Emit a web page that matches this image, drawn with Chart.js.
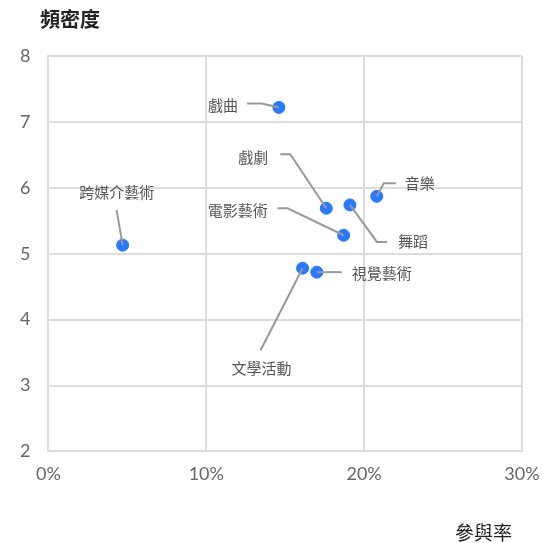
<!DOCTYPE html>
<html lang="zh-Hant">

<head>
  <meta charset="UTF-8" />
  <title>參與率與頻密度</title>
  <script src="https://cdn.jsdelivr.net/npm/chart.js"></script>
  <style>
    html, body {
      margin: 0;
      padding: 0;
      background: #fff;
    }

    #chart-container {
      width: 547px;
      height: 543px;
    }
  </style>
</head>

<body>

  <div id="chart-container">
    <canvas id="scatterChart"></canvas>
  </div>

  <script>
    // Dades llegides de la imatge
    const categories = ['戲曲', '戲劇', '舞蹈', '音樂', '電影藝術', '跨媒介藝術', '文學活動', '視覺藝術'];
    const participacio = [14.6, 17.6, 19.1, 20.8, 18.7, 4.7, 16.1, 17.0]; // %
    const frequencia = [7.22, 5.69, 5.74, 5.87, 5.28, 5.13, 4.78, 4.72];
    const xTicks = [0, 10, 20, 30];
    const yTicks = [2, 3, 4, 5, 6, 7, 8];

    // Posició de les etiquetes respecte del punt (px): text, inici de la línia, colze
    const labelLayout = [
      { text: [-41, -2], align: 'right', start: [-32, -4], elbow: [-17, -4] },
      { text: [-58, -51], align: 'right', start: [-46, -54], elbow: [-36, -54] },
      { text: [48, 36], align: 'left', start: [37, 37], elbow: [27, 37] },
      { text: [28, -13], align: 'left', start: [19, -13], elbow: [7, -13] },
      { text: [-76, -25], align: 'right', start: [-66, -27], elbow: [-56, -27] },
      { text: [-6, -53], align: 'center', start: [-6, -35], elbow: null },
      { text: [-41, 100], align: 'center', start: [-42, 82], elbow: null },
      { text: [35, 1], align: 'left', start: [25, 0], elbow: null }
    ];

    const points = categories.map((c, i) => ({ x: participacio[i], y: frequencia[i] }));

    // Etiquetes amb línia guia i títols dels eixos
    const etiquetesPlugin = {
      id: 'etiquetes',
      afterDatasetsDraw(chart) {
        const ctx = chart.ctx;
        const meta = chart.getDatasetMeta(0);
        ctx.save();
        meta.data.forEach((pt, i) => {
          const l = labelLayout[i];
          ctx.strokeStyle = '#999';
          ctx.lineWidth = 2;
          ctx.beginPath();
          ctx.moveTo(pt.x + l.start[0], pt.y + l.start[1]);
          if (l.elbow) ctx.lineTo(pt.x + l.elbow[0], pt.y + l.elbow[1]);
          ctx.lineTo(pt.x, pt.y);
          ctx.stroke();

          ctx.fillStyle = '#555';
          ctx.font = '15px "Noto Sans CJK TC", sans-serif';
          ctx.textAlign = l.align;
          ctx.textBaseline = 'middle';
          ctx.fillText(categories[i], pt.x + l.text[0], pt.y + l.text[1]);
        });

        ctx.fillStyle = '#222';
        ctx.font = 'bold 20px "Noto Sans CJK TC", sans-serif';
        ctx.textAlign = 'left';
        ctx.textBaseline = 'middle';
        ctx.fillText('頻密度', 40, 19);

        ctx.font = '19px "Noto Sans CJK TC", sans-serif';
        ctx.textAlign = 'right';
        ctx.fillText('參與率', chart.chartArea.right - 10, 533);
        ctx.restore();
      }
    };

    new Chart(document.getElementById('scatterChart'), {
      type: 'scatter',
      data: {
        datasets: [{
          label: '參與率 / 頻密度',
          data: points,
          backgroundColor: '#2979ff',
          borderColor: '#2979ff',
          pointRadius: 6,
          pointHoverRadius: 7
        }]
      },
      options: {
        responsive: true,
        maintainAspectRatio: false,
        animation: false,
        layout: {
          padding: { left: 2, top: 56, right: 0, bottom: 46 }
        },
        plugins: {
          legend: { display: false },
          tooltip: { enabled: false }
        },
        scales: {
          x: {
            type: 'linear',
            min: 0,
            max: 30,
            afterBuildTicks: axis => { axis.ticks = xTicks.map(v => ({ value: v })); },
            afterFit: axis => { axis.paddingRight = 25; },
            ticks: {
              padding: 12,
              color: '#666',
              font: { family: 'Lato', size: 18 },
              callback: value => value + '%'
            },
            grid: { color: '#ddd', lineWidth: 2, drawTicks: false },
            border: { color: '#ddd', width: 2 }
          },
          y: {
            type: 'linear',
            min: 2,
            max: 8,
            afterBuildTicks: axis => { axis.ticks = yTicks.map(v => ({ value: v })); },
            ticks: {
              padding: 18,
              color: '#666',
              font: { family: 'Lato', size: 18 }
            },
            grid: { color: '#ddd', lineWidth: 2, drawTicks: false },
            border: { color: '#ddd', width: 2 }
          }
        }
      },
      plugins: [etiquetesPlugin]
    });
  </script>

</body>

</html>
